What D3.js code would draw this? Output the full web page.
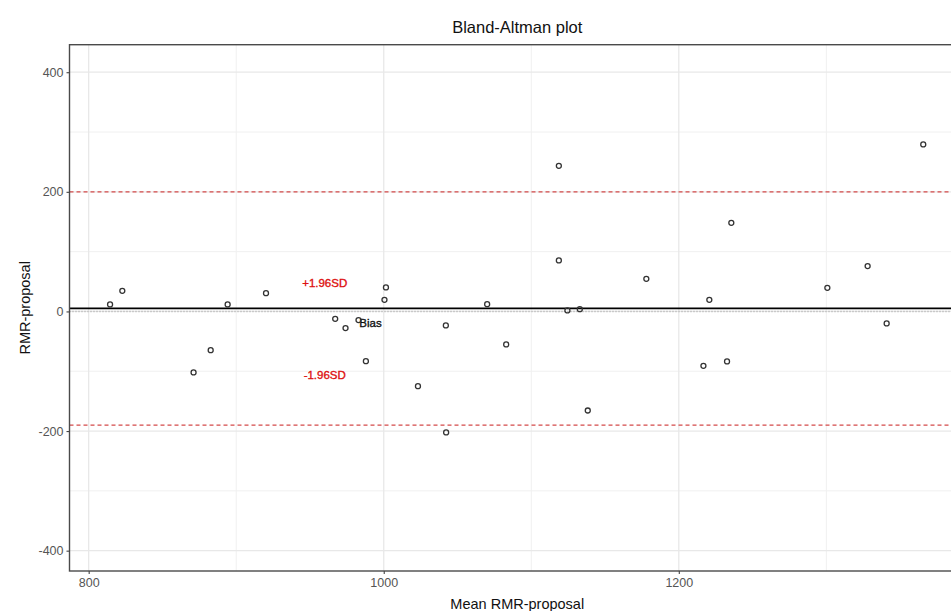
<!DOCTYPE html>
<meta charset="utf-8">
<body style="margin:0;background:#fff">
<svg></svg>
<script src="https://cdnjs.cloudflare.com/ajax/libs/d3/7.8.5/d3.min.js"></script>
<script>

// mean of the two methods and their difference
var meanVals = [814.5, 822.8, 871.1, 882.7, 894.2, 920.2, 967.1, 974.1, 982.9, 987.9,
                1001.5, 1000.5, 1023.2, 1042.1, 1042.3, 1070.1, 1083.0, 1118.7, 1118.7, 1124.5,
                1132.9, 1138.3, 1178.0, 1216.7, 1220.7, 1232.7, 1235.6, 1300.7, 1328.0, 1340.9, 1365.7];
var diffVals = [11.7, 34.4, -102, -64.7, 11.7, 30.6, -12.4, -27.9, -14.5, -83.1,
                40.1, 19.4, -124.9, -23.4, -202.3, 12.2, -55.2, 243.5, 85.3, 1.7,
                3.8, -165.6, 54.5, -91.0, 19.4, -83.6, 148.2, 39.5, 75.8, -20.1, 279.3];

var bias = 5, upperLoA = 200, lowerLoA = -190;

var labelText = ["+1.96SD", "-1.96SD", "Bias"];
var labelX = [960, 960, 991];
var labelY = [47, -106.5, -20];
var labelCol = ["#dd1111", "#dd1111", "#111"];

var xTicks = [800, 1000, 1200, 1400];
var xMinor = [900, 1100, 1300];
var yTicks = [-400, -200, 0, 200, 400];
var yMinor = [-300, -100, 100, 300];

var W = 951, H = 611;
var pL = 69.5, pR = 965, pT = 44.7, pB = 571;

var svg = d3.select('svg').attr('width', W).attr('height', H)
	.style('display', 'block')
	.style('font-family', 'Liberation Sans, Arial, sans-serif');

var x = d3.scaleLinear().domain([787, 1394]).range([pL, pR]);
var y = d3.scaleLinear().domain([-434, 446]).range([pB, pT]);

svg.append('clipPath').attr('id', 'pc')
	.append('rect').attr('x', pL).attr('y', pT).attr('width', pR - pL).attr('height', pB - pT);

var g = svg.append('g').attr('clip-path', 'url(#pc)');

// grid
g.selectAll('.xmin').data(xMinor).enter().append('line')
	.attr('x1', d => x(d)).attr('x2', d => x(d)).attr('y1', pT).attr('y2', pB)
	.attr('stroke', '#f0f0f0').attr('stroke-width', 1);
g.selectAll('.ymin').data(yMinor).enter().append('line')
	.attr('y1', d => y(d)).attr('y2', d => y(d)).attr('x1', pL).attr('x2', pR)
	.attr('stroke', '#f0f0f0').attr('stroke-width', 1);
g.selectAll('.xmaj').data(xTicks).enter().append('line')
	.attr('x1', d => x(d)).attr('x2', d => x(d)).attr('y1', pT).attr('y2', pB)
	.attr('stroke', '#e8e8e8').attr('stroke-width', 1.3);
g.selectAll('.ymaj').data(yTicks).enter().append('line')
	.attr('y1', d => y(d)).attr('y2', d => y(d)).attr('x1', pL).attr('x2', pR)
	.attr('stroke', '#e8e8e8').attr('stroke-width', 1.3);

// zero, bias and limits of agreement
g.append('line').attr('x1', pL).attr('x2', pR).attr('y1', y(0)).attr('y2', y(0))
	.attr('stroke', '#aaa').attr('stroke-width', 1.6).attr('stroke-dasharray', '1,2');
g.append('line').attr('x1', pL).attr('x2', pR).attr('y1', y(bias)).attr('y2', y(bias))
	.attr('stroke', '#000').attr('stroke-width', 1.7);
g.selectAll('.loa').data([upperLoA, lowerLoA]).enter().append('line')
	.attr('x1', pL).attr('x2', pR).attr('y1', d => y(d)).attr('y2', d => y(d))
	.attr('stroke', '#d44a4a').attr('stroke-width', 1.3).attr('stroke-dasharray', '4,3');

// labels
g.selectAll('.lab').data(labelText).enter().append('text')
	.attr('x', (d, i) => x(labelX[i])).attr('y', (d, i) => y(labelY[i]))
	.attr('text-anchor', 'middle').attr('dy', '0.35em')
	.attr('font-size', 11.5).attr('fill', (d, i) => labelCol[i])
	.attr('stroke', (d, i) => labelCol[i]).attr('stroke-width', 0.35)
	.text(d => d);

// points
g.selectAll('.pt').data(meanVals).enter().append('circle')
	.attr('cx', d => x(d)).attr('cy', (d, i) => y(diffVals[i]))
	.attr('r', 2.5).attr('fill', 'none').attr('stroke', '#333').attr('stroke-width', 1.3);

// panel border
svg.append('rect').attr('x', pL).attr('y', pT).attr('width', pR - pL).attr('height', pB - pT)
	.attr('fill', 'none').attr('stroke', '#4a4a4a').attr('stroke-width', 1.4);

// axes
var xAxis = svg.append('g').attr('transform', 'translate(0,' + pB + ')')
	.call(d3.axisBottom(x).tickValues(xTicks.slice(0, 3)).tickSize(3).tickPadding(4).tickFormat(d => String(d)));
var yAxis = svg.append('g').attr('transform', 'translate(' + pL + ',0)')
	.call(d3.axisLeft(y).tickValues(yTicks).tickSize(3).tickPadding(3).tickFormat(d => String(d)));
[xAxis, yAxis].forEach(a => {
	a.select('.domain').remove();
	a.selectAll('line').attr('stroke', '#444').attr('stroke-width', 1.1);
	a.selectAll('text').attr('fill', '#555').attr('font-size', 12.5).style('font-family', 'Liberation Sans, Arial, sans-serif');
});

// titles
svg.append('text').attr('x', (pL + pR) / 2).attr('y', 33).attr('text-anchor', 'middle')
	.attr('font-size', 16.5).attr('fill', '#111').text('Bland-Altman plot');
svg.append('text').attr('x', (pL + pR) / 2).attr('y', 609).attr('text-anchor', 'middle')
	.attr('font-size', 14.5).attr('fill', '#111').text('Mean RMR-proposal');
svg.append('text').attr('transform', 'translate(30,' + ((pT + pB) / 2) + ') rotate(-90)')
	.attr('text-anchor', 'middle').attr('font-size', 14.5).attr('fill', '#111').text('RMR-proposal');
</script>
